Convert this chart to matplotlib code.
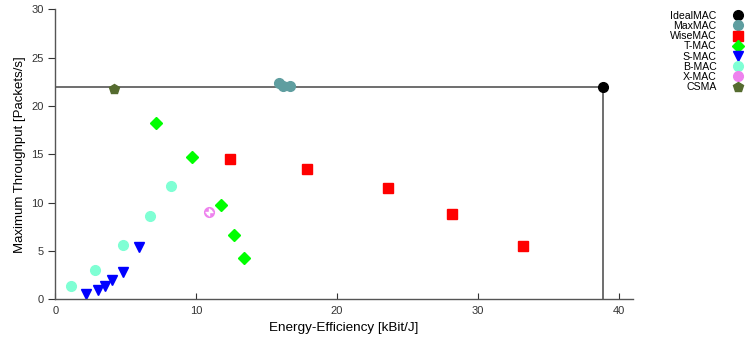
import matplotlib.pyplot as plt
import numpy as np
from matplotlib.path import Path
from matplotlib.lines import Line2D

plt.rcParams['font.family'] = ['Liberation Sans', 'DejaVu Sans']

# energy-efficiency [kBit/J] and max throughput [packets/s] per protocol
ideal_x = [38.87]
ideal_y = [21.95]
maxmac_x = [15.9, 16.15, 16.7]
maxmac_y = [22.35, 22.1, 22.1]
wisemac_x = [12.4, 17.85, 23.65, 28.2, 33.2]
wisemac_y = [14.55, 13.5, 11.55, 8.8, 5.55]
tmac_x = [7.15, 9.7, 11.75, 12.7, 13.4]
tmac_y = [18.2, 14.75, 9.75, 6.65, 4.25]
smac_x = [2.2, 3.0, 3.55, 4.05, 4.8, 5.95]
smac_y = [0.6, 0.95, 1.4, 1.95, 2.85, 5.45]
bmac_x = [1.1, 2.8, 4.8, 6.7, 8.25]
bmac_y = [1.4, 3.05, 5.6, 8.6, 11.7]
xmac_x = [10.95]
xmac_y = [9.05]
csma_x = [4.15]
csma_y = [21.75]

labels = ["IdealMAC", "MaxMAC", "WiseMAC", "T-MAC", "S-MAC", "B-MAC", "X-MAC", "CSMA"]


def quarter(a0, a1):
    t = np.linspace(a0, a1, 12)
    verts = [(0, 0)] + [(np.cos(v), np.sin(v)) for v in t] + [(0, 0)]
    return Path(verts)


# white quadrants (top-right, bottom-left) for the X-MAC pattern
wedge_tr = quarter(0, np.pi / 2)
wedge_bl = quarter(np.pi, 1.5 * np.pi)

fig = plt.figure(figsize=(7.47, 3.39), dpi=100)
ax = fig.add_axes([0.074, 0.117, 0.773, 0.856])

# bounding lines of the ideal MAC
ax.plot([0, ideal_x[0]], [ideal_y[0], ideal_y[0]], color="#555555", lw=1.2, zorder=1)
ax.plot([ideal_x[0], ideal_x[0]], [0, ideal_y[0]], color="#555555", lw=1.2, zorder=1)

ms = 7
styles = [
    ('o', "black", ms),
    ('o', "#5F9EA0", ms),
    ('s', "red", 6.6),
    ('D', "#00FF00", 6.1),
    ('v', "blue", 6.6),
    ('o', "#7FFFD4", ms),
    ('o', "#EE82EE", ms),
    ('p', "#556B2F", 7.2),
]
series = [(ideal_x, ideal_y), (maxmac_x, maxmac_y), (wisemac_x, wisemac_y),
          (tmac_x, tmac_y), (smac_x, smac_y), (bmac_x, bmac_y),
          (xmac_x, xmac_y), (csma_x, csma_y)]

for lab, (xs, ys), (m, c, s) in zip(labels, series, styles):
    ax.plot(xs, ys, marker=m, color=c, ms=s, ls="none")
    if lab == "X-MAC":
        ax.plot(xs, ys, marker=wedge_tr, color="white", mew=0, ms=s - 2.2, ls="none")
        ax.plot(xs, ys, marker=wedge_bl, color="white", mew=0, ms=s - 2.2, ls="none")
        ax.plot(xs, ys, '+', color="white", ms=s - 1.5, mew=1.0, ls="none")

ax.set_xlim(0, 41)
ax.set_ylim(0, 30)
ax.set_xticks([0, 10, 20, 30, 40])
ax.set_yticks([0, 5, 10, 15, 20, 25, 30])
ax.tick_params(axis='x', direction='in', length=4, labelsize=8, colors="#333333", pad=5)
ax.tick_params(axis='y', direction='out', length=5, labelsize=8, colors="#333333")
for side in ["top", "right"]:
    ax.spines[side].set_visible(False)
for side in ["left", "bottom"]:
    ax.spines[side].set_color("#555555")
    ax.spines[side].set_linewidth(1.0)

ax.set_xlabel("Energy-Efficiency [kBit/J]", fontsize=9.7)
ax.set_ylabel("Maximum Throughput [Packets/s]", fontsize=9.5)

handles = [Line2D([], [], marker=m, color=c, ms=s, ls="none") for m, c, s in styles]
leg = fig.legend(handles, labels, loc="upper right", bbox_to_anchor=(1.006, 0.993),
                 frameon=False, markerfirst=False, fontsize=7.6, handlelength=1.0,
                 handletextpad=1.5, labelspacing=0.02, borderpad=0.3)
for col in leg._legend_handle_box.get_children():
    col.align = "right"

fig.savefig("out.png", dpi=100)
